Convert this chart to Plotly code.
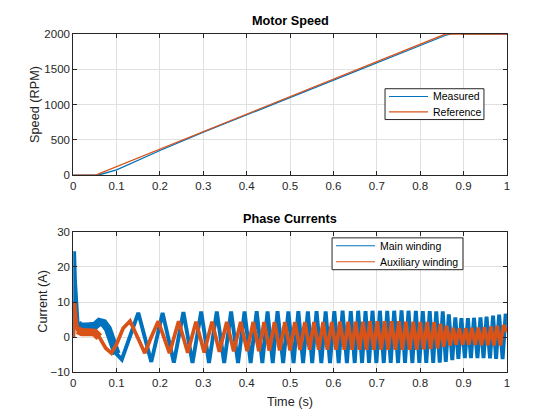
import plotly.graph_objects as go

# ---- motor speed (RPM) ----
ref_t = [0.0, 0.05, 0.858, 1.0]
ref_rpm = [0, 0, 2000, 2000]

meas_t = [0.0, 0.056, 0.1, 0.2, 0.3, 0.5, 0.7, 0.8, 0.862, 0.875, 0.89, 0.9, 1.0]
meas_rpm = [0, 0, 75, 350, 610, 1100, 1600, 1838, 1990, 2008, 2010, 2000, 2000]

# ---- phase currents (A), peaks and troughs ----
main_t = [0.0, 0.002, 0.004, 0.007, 0.010, 0.015, 0.03, 0.05, 0.06, 0.07, 0.08, 0.09, 0.1,
          0.112, 0.150, 0.180, 0.206, 0.232, 0.254, 0.275, 0.295, 0.313, 0.331, 0.348, 0.364,
          0.380, 0.395, 0.409, 0.423, 0.436, 0.448, 0.460, 0.471, 0.484, 0.496, 0.508, 0.519,
          0.530, 0.541, 0.551, 0.561, 0.572, 0.582, 0.592, 0.602, 0.612, 0.621, 0.631, 0.640,
          0.649, 0.657, 0.666, 0.674, 0.682, 0.690, 0.699, 0.707, 0.716, 0.724, 0.732, 0.740,
          0.749, 0.757, 0.765, 0.773, 0.782, 0.790, 0.798, 0.806, 0.814, 0.822, 0.830, 0.837,
          0.845, 0.852, 0.859, 0.866, 0.874, 0.881, 0.888, 0.895, 0.903, 0.910, 0.917, 0.924,
          0.932, 0.939, 0.946, 0.953, 0.961, 0.968, 0.975, 0.982, 0.990, 0.997, 1.0]
main_i = [0.0, 24.5, 16.0, 7.0, 4.0, 3.0, 3.0, 3.2, 4.3, 4.0, 2.3, -1.5, -4.8,
          -6.4, 6.9, -7.1, 6.9, -7.3, 7.1, -7.4, 7.3, -7.4, 7.3, -7.4, 7.3,
          -7.4, 7.3, -7.4, 7.4, -7.4, 7.3, -7.4, 7.4, -7.4, 7.3, -7.4, 7.4,
          -7.4, 7.3, -7.4, 7.4, -7.4, 7.3, -7.4, 7.4, -7.4, 7.5, -7.4, 7.4,
          -7.4, 7.5, -7.4, 7.4, -7.4, 7.5, -7.4, 7.5, -7.4, 7.5, -7.4, 7.5,
          -7.4, 7.6, -7.4, 7.5, -7.4, 7.5, -7.4, 7.4, -7.4, 7.4, -7.4, 7.3,
          -7.3, 7.3, -7.1, 6.5, -6.6, 5.6, -6.2, 5.4, -6.0, 5.4, -6.0, 5.5,
          -6.0, 5.6, -6.0, 5.8, -6.1, 6.1, -6.2, 6.4, -6.3, 6.6, 4.5]

aux_t = [0.0, 0.003, 0.006, 0.010, 0.02, 0.04, 0.05, 0.06, 0.075, 0.088, 0.1, 0.115,
         0.131, 0.148, 0.165, 0.180, 0.196, 0.222, 0.243, 0.264, 0.283, 0.302, 0.320, 0.337,
         0.354, 0.370, 0.386, 0.401, 0.415, 0.428, 0.440, 0.452, 0.464, 0.476, 0.488, 0.500,
         0.511, 0.523, 0.534, 0.545, 0.555, 0.566, 0.576, 0.586, 0.596, 0.606, 0.615, 0.625,
         0.634, 0.643, 0.651, 0.660, 0.668, 0.676, 0.684, 0.693, 0.701, 0.710, 0.718, 0.726,
         0.734, 0.743, 0.751, 0.759, 0.767, 0.776, 0.784, 0.792, 0.800, 0.808, 0.816, 0.824,
         0.832, 0.840, 0.847, 0.854, 0.861, 0.869, 0.876, 0.883, 0.890, 0.898, 0.905, 0.912,
         0.919, 0.927, 0.934, 0.941, 0.948, 0.956, 0.963, 0.970, 0.977, 0.985, 0.992, 1.0]
aux_i = [0.0, 10.0, 5.0, 2.0, 1.4, 1.4, 1.2, 0.0, -3.2, -4.6, -2.0, 2.5,
         4.6, 0.0, -4.6, 0.0, 4.5, -4.6, 4.5, -4.5, 4.4, -4.4, 4.4, -4.2,
         4.3, -4.1, 4.3, -4.0, 4.3, -4.0, 4.3, -3.9, 4.3, -3.8, 4.3, -3.8,
         4.3, -3.7, 4.3, -3.6, 4.3, -3.6, 4.3, -3.6, 4.3, -3.6, 4.4, -3.6,
         4.4, -3.6, 4.4, -3.6, 4.4, -3.6, 4.5, -3.6, 4.5, -3.6, 4.5, -3.6,
         4.5, -3.6, 4.5, -3.6, 4.4, -3.6, 4.4, -3.6, 4.3, -3.5, 4.3, -3.4,
         4.2, -3.2, 3.8, -2.8, 3.2, -2.4, 2.6, -2.2, 2.5, -2.2, 2.5, -2.2,
         2.6, -2.2, 2.7, -2.3, 2.8, -2.3, 3.0, -2.4, 3.2, -2.4, 3.4, 1.5]

speed_names = ['Measured', 'Reference']
current_names = ['Main winding', 'Auxiliary winding']

BLUE = '#0072BD'
ORANGE = '#D95319'
AX = '#262626'
FONT = 'Liberation Sans, Arial, sans-serif'
W, H = 560, 420

# the photographed page comes out slightly squeezed; pre-compensate pixel targets
SX, CX = 0.99, 2.7
SY, CY = 0.977, 4.8


def px(x):
    return ((x - CX) / SX) / W


def py(y):
    return 1 - ((y - CY) / SY) / H


fig = go.Figure()

# speed
fig.add_trace(go.Scatter(x=meas_t, y=meas_rpm, mode='lines', name=speed_names[0],
                         line=dict(color=BLUE, width=1.3), xaxis='x', yaxis='y'))
fig.add_trace(go.Scatter(x=ref_t, y=ref_rpm, mode='lines', name=speed_names[1],
                         line=dict(color=ORANGE, width=1.3), xaxis='x', yaxis='y'))

# currents: thick band for the ripple at start-up, then the oscillation
early_m = [k for k, t in enumerate(main_t) if 0.009 <= t <= 0.1]
early_a = [k for k, t in enumerate(aux_t) if 0.009 <= t <= 0.06]

fig.add_trace(go.Scatter(x=main_t, y=main_i, mode='lines', name=current_names[0],
                         line=dict(color=BLUE, width=3.9), xaxis='x2', yaxis='y2'))
fig.add_trace(go.Scatter(x=[main_t[k] for k in early_m], y=[main_i[k] for k in early_m],
                         mode='lines', line=dict(color=BLUE, width=8),
                         xaxis='x2', yaxis='y2'))
fig.add_trace(go.Scatter(x=aux_t, y=aux_i, mode='lines', name=current_names[1],
                         line=dict(color=ORANGE, width=3.7), xaxis='x2', yaxis='y2'))
fig.add_trace(go.Scatter(x=[aux_t[k] for k in early_a], y=[aux_i[k] for k in early_a],
                         mode='lines', line=dict(color=ORANGE, width=8),
                         xaxis='x2', yaxis='y2'))

xdom = [px(73), px(507)]
common = dict(showline=True, linecolor=AX, linewidth=1, mirror='ticks', ticks='inside',
              ticklen=4, tickcolor=AX, showgrid=True, gridcolor='#e0e0e0', zeroline=False,
              tickfont=dict(family=FONT, size=11.5, color=AX))

fig.update_layout(
    width=W, height=H, margin=dict(l=0, r=0, t=0, b=0),
    paper_bgcolor='white', plot_bgcolor='white',
    font=dict(family=FONT, color=AX),
    showlegend=False,
    xaxis=dict(domain=xdom, range=[0, 1], dtick=0.1, anchor='y', **common),
    yaxis=dict(domain=[py(175), py(33)], range=[0, 2000], dtick=500, anchor='x', **common),
    xaxis2=dict(domain=xdom, range=[0, 1], dtick=0.1, anchor='y2', **common),
    yaxis2=dict(domain=[py(373), py(232)], range=[-10, 30], dtick=10, anchor='x2', **common),
)


# hand-drawn legend boxes (MATLAB style, compact rows)
def add_legend(x0, y0, x1, y1, names, colors):
    fig.add_shape(type='rect', xref='paper', yref='paper', x0=px(x0), x1=px(x1),
                  y0=py(y0), y1=py(y1), line=dict(color=AX, width=1), fillcolor='white',
                  layer='above')
    row_h = (y1 - y0) / len(names)
    for k, (name, col) in enumerate(zip(names, colors)):
        yc = y0 + row_h * (k + 0.5)
        fig.add_shape(type='line', xref='paper', yref='paper', x0=px(x0 + 4), x1=px(x0 + 43),
                      y0=py(yc), y1=py(yc), line=dict(color=col, width=1.1), layer='above')
        fig.add_annotation(text=name, x=px(x0 + 46), y=py(yc), xref='paper', yref='paper',
                           xanchor='left', yanchor='middle', showarrow=False,
                           font=dict(family=FONT, size=10.5, color='black'))


add_legend(385, 88, 484, 119, speed_names, [BLUE, ORANGE])
add_legend(332, 238, 463, 270, current_names, [BLUE, ORANGE])

title_font = dict(family=FONT, size=12.7, color='black')
label_font = dict(family=FONT, size=12.7, color=AX)
fig.add_annotation(text='<b>Motor Speed</b>', x=px(290), y=py(20), xref='paper', yref='paper',
                   showarrow=False, xanchor='center', yanchor='middle', font=title_font)
fig.add_annotation(text='<b>Phase Currents</b>', x=px(290), y=py(219), xref='paper',
                   yref='paper', showarrow=False, xanchor='center', yanchor='middle',
                   font=title_font)
fig.add_annotation(text='Speed (RPM)', x=px(34), y=py(104), xref='paper', yref='paper',
                   showarrow=False, textangle=-90, xanchor='center', yanchor='middle',
                   font=label_font)
fig.add_annotation(text='Current (A)', x=px(42), y=py(302), xref='paper', yref='paper',
                   showarrow=False, textangle=-90, xanchor='center', yanchor='middle',
                   font=label_font)
fig.add_annotation(text='Time (s)', x=px(290), y=py(403), xref='paper', yref='paper',
                   showarrow=False, xanchor='center', yanchor='middle', font=label_font)

fig.write_html("out.html", config={'displayModeBar': False},
               post_script="document.body.style.margin='0px';")
